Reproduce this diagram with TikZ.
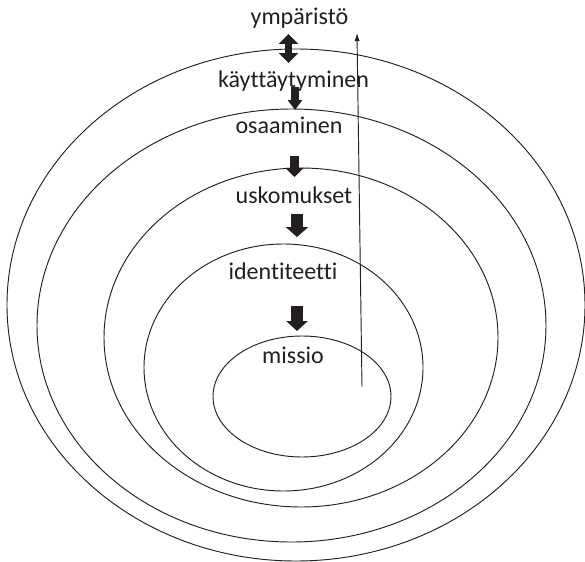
\documentclass[tikz,border=0pt]{standalone}
\usepackage{fontspec}
\setmainfont{Carlito}[Ligatures={NoCommon,NoRare}]
\usepackage{tikz}
\usetikzlibrary{arrows.meta}
\definecolor{ink}{RGB}{35,31,32}
\tikzset{
  lbl/.style={anchor=base,inner sep=0pt,text=ink,font=\fontsize{20.5}{24}\selectfont},
  ring/.style={draw=ink,line width=0.8pt},
  blockarr/.style n args={3}{draw=ink,line width=#1,-{Triangle[width=#2,length=#3]}},
}

\begin{document}
\begin{tikzpicture}[x=0.03cm,y=-0.03cm]
    \useasboundingbox (0,0) rectangle (585,562);
    % rings, outside in
    \draw[ring] (296,305) ellipse [x radius=289, y radius=256];
    \draw[ring] (291.5,325.5) ellipse [x radius=254.5, y radius=216.5];
    \draw[ring] (301,337.5) ellipse [x radius=197, y radius=169.5];
    \draw[ring] (283.5,367.5) ellipse [x radius=139.5, y radius=123.5];
    \draw[ring] (302,396.5) ellipse [x radius=89, y radius=60.5];
    % labels
    \node[lbl] (ymp) at (299.5,25) {ympäristö};
    \node[lbl] (kay) at (293.5,88) {käyttäytyminen};
    \node[lbl] (osa) at (289,134) {osaaminen};
    \node[lbl] (usk) at (294,203) {uskomukset};
    \node[lbl] (ide) at (283,279) {identiteetti};
    \node[lbl] (mis) at (293,363) {missio};
    % arrow ends
    \coordinate (a1s) at (288.5,34);
    \coordinate (a1e) at (288.5,63);
    \coordinate (a2s) at (295,87);
    \coordinate (a2e) at (295,110);
    \coordinate (a3s) at (294.5,156);
    \coordinate (a3e) at (294.5,177);
    \coordinate (a4s) at (297,214);
    \coordinate (a4e) at (297,237);
    \coordinate (a5s) at (297,306);
    \coordinate (a5e) at (297,331);
    \coordinate (up0) at (362,387);
    \coordinate (up1) at (357,33);
    % arrows
    \draw[draw=ink,line width=6.8pt,{Triangle[width=16.2pt,length=8.5pt]}-{Triangle[width=16.2pt,length=8.5pt]}] (a1s) -- (a1e);
    \draw[blockarr={6.6pt}{12pt}{8.5pt}] (a2s) -- (a2e);
    \draw[blockarr={7.7pt}{15.4pt}{7.7pt}] (a3s) -- (a3e);
    \draw[blockarr={9.4pt}{18.8pt}{8.5pt}] (a4s) -- (a4e);
    \draw[blockarr={10.2pt}{17.9pt}{8.5pt}] (a5s) -- (a5e);
    \draw[draw=ink,line width=0.8pt,-{Latex[length=7pt,width=4.5pt]}] (up0) -- (up1);
\end{tikzpicture}
\end{document}
